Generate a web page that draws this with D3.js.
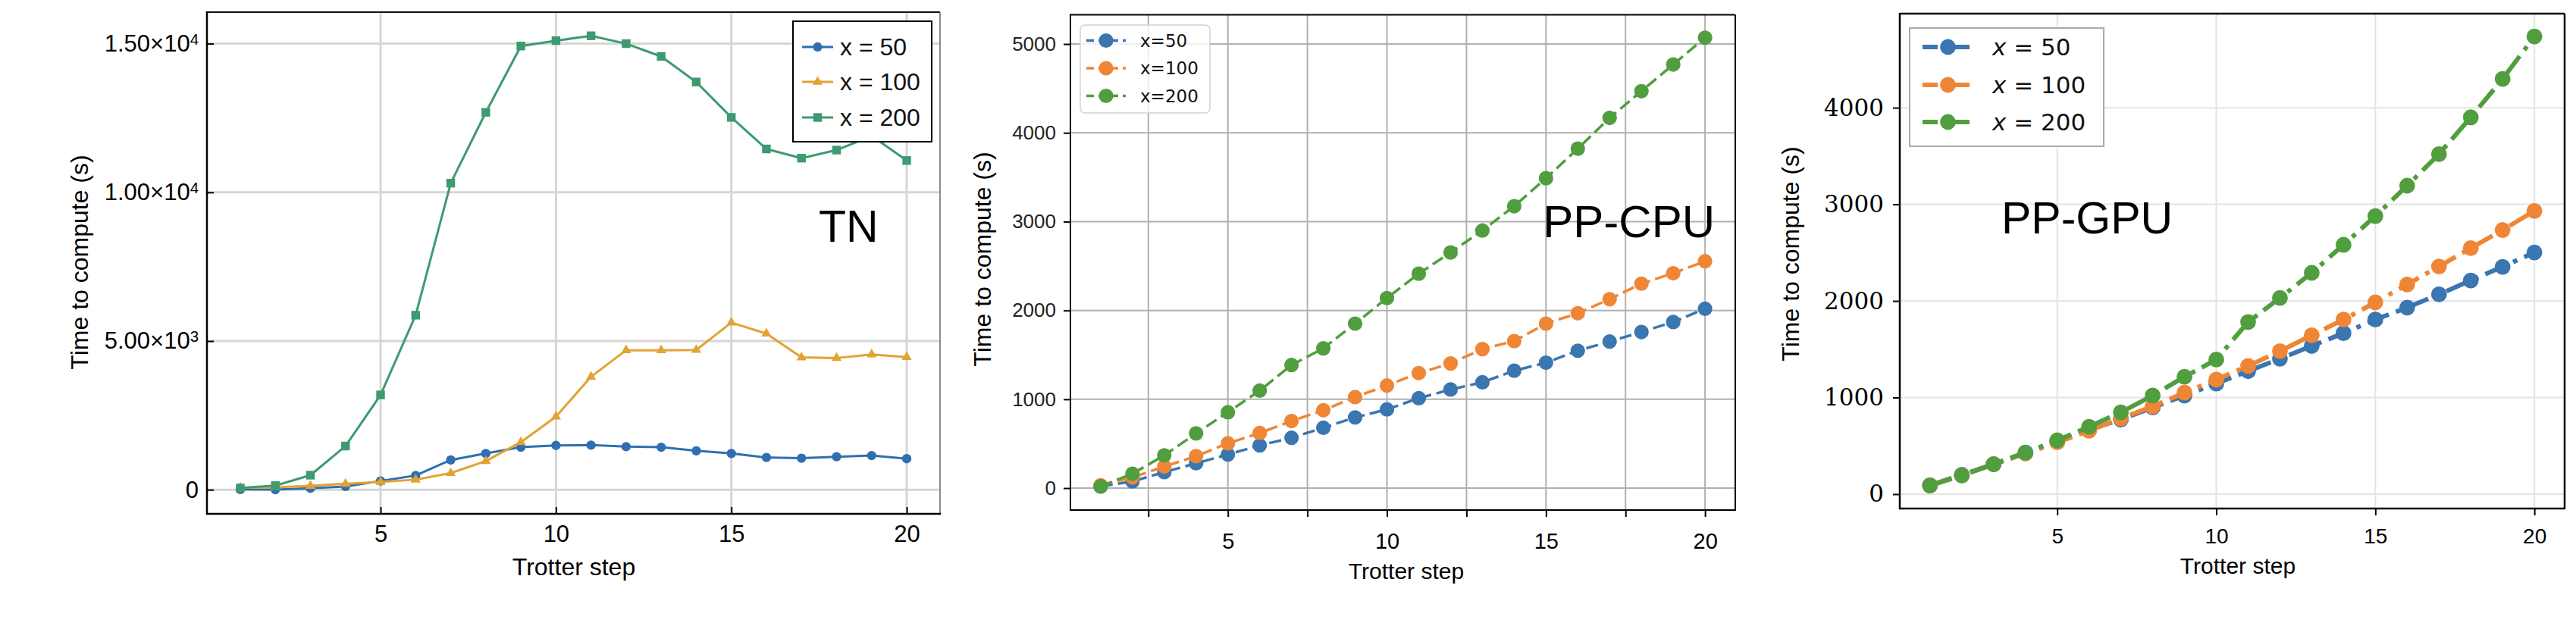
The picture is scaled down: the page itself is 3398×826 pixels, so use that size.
<!DOCTYPE html>
<html>
<head>
<meta charset="utf-8">
<script src="https://cdn.jsdelivr.net/npm/d3@7"></script>
<style>
  html, body { margin: 0; padding: 0; background: #fff; }
  svg { display: block; }
</style>
</head>
<body>
<div id="chart"></div>
<script>
// ---- data ----
const steps = [1, 2, 3, 4, 5, 6, 7, 8, 9, 10, 11, 12, 13, 14, 15, 16, 17, 18, 19, 20];

const tnX50  = [10, 5, 50, 110, 295, 480, 1000, 1220, 1430, 1490, 1500, 1450, 1430, 1310, 1220, 1085, 1060, 1110, 1150, 1045];
const tnX100 = [70, 80, 130, 200, 260, 340, 560, 965, 1600, 2460, 3800, 4690, 4690, 4700, 5620, 5250, 4450, 4430, 4550, 4460];
const tnX200 = [60, 140, 490, 1470, 3190, 5870, 10310, 12690, 14920, 15100, 15265, 15000, 14570, 13710, 12520, 11460, 11150, 11420, 11900, 11070];

const cpuX50  = [18, 76, 180, 280, 378, 481, 566, 679, 796, 886, 1012, 1110, 1191, 1322, 1412, 1547, 1650, 1758, 1870, 2019];
const cpuX100 = [31, 121, 243, 360, 504, 620, 755, 877, 1025, 1155, 1295, 1403, 1565, 1655, 1852, 1969, 2127, 2302, 2419, 2554];
const cpuX200 = [20, 162, 369, 616, 854, 1097, 1385, 1574, 1852, 2140, 2414, 2653, 2900, 3174, 3489, 3822, 4168, 4469, 4770, 5071];

const gpuX50  = [92, 200, 310, 430, 545, 669, 772, 897, 1021, 1145, 1273, 1402, 1534, 1666, 1807, 1931, 2068, 2212, 2353, 2502];
const gpuX100 = [90, 195, 310, 420, 536, 656, 784, 908, 1050, 1186, 1327, 1480, 1645, 1807, 1985, 2171, 2357, 2547, 2734, 2932];
const gpuX200 = [90, 193, 309, 429, 557, 698, 847, 1021, 1215, 1393, 1782, 2031, 2291, 2581, 2879, 3193, 3520, 3901, 4298, 4737];

const tnLabels  = ['x = 50', 'x = 100', 'x = 200'];
const cpuLabels = ['x=50', 'x=100', 'x=200'];
const gpuLabels = ['50', '100', '200'];

const xTickValues = [5, 10, 15, 20];
const cpuXTickValues = [2.5, 5, 7.5, 10, 12.5, 15, 17.5, 20];
const tnYTicks = [0, 5000, 10000, 15000];
const tnYTickText = [['0', ''], ['5.00×10', '3'], ['1.00×10', '4'], ['1.50×10', '4']];
const cpuYTicks = [0, 1000, 2000, 3000, 4000, 5000];
const gpuYTicks = [0, 1000, 2000, 3000, 4000];

const SANS = '"Liberation Sans", Arial, Helvetica, sans-serif';
const DEJAVU = '"DejaVu Sans", sans-serif';
const SERIF = '"DejaVu Serif", "Liberation Serif", serif';

const svg = d3.select('#chart').append('svg')
  .attr('width', 3398)
  .attr('height', 826);

function drawPanel(p) {
  const x = d3.scaleLinear().domain(p.xDomain).range([p.left, p.right]);
  const y = d3.scaleLinear().domain(p.yDomain).range([p.bottom, p.top]);
  const g = svg.append('g');

  // grid
  g.selectAll('.vgrid').data(p.xGrid).enter().append('line')
    .attr('x1', d => x(d)).attr('x2', d => x(d))
    .attr('y1', p.top).attr('y2', p.bottom)
    .attr('stroke', p.gridColor).attr('stroke-width', p.gridWidth);
  g.selectAll('.hgrid').data(p.yTicks).enter().append('line')
    .attr('x1', p.left).attr('x2', p.right)
    .attr('y1', d => y(d)).attr('y2', d => y(d))
    .attr('stroke', p.gridColor).attr('stroke-width', p.gridWidth);

  // series
  p.series.forEach(s => {
    const line = d3.line().x((d, i) => x(steps[i])).y(d => y(d));
    g.append('path').datum(s.values)
      .attr('d', line)
      .attr('fill', 'none')
      .attr('stroke', s.color)
      .attr('stroke-width', p.lineWidth)
      .attr('stroke-dasharray', p.dash || null)
      .attr('stroke-linejoin', 'round');
    g.selectAll(null).data(s.values).enter().append('path')
      .attr('transform', (d, i) => 'translate(' + x(steps[i]) + ',' + y(d) + ')')
      .attr('d', d3.symbol().type(s.symbol).size(s.size))
      .attr('fill', s.color);
  });

  // axes
  const xAxis = d3.axisBottom(x).tickValues(p.xTicks)
    .tickSizeInner(p.tickIn ? -p.tickLen : p.tickLen).tickSizeOuter(0)
    .tickPadding(p.xPad)
    .tickFormat(d => (d % 5 === 0 ? String(d) : ''));
  const gx = g.append('g').attr('transform', 'translate(0,' + p.bottom + ')').call(xAxis);
  gx.select('.domain').remove();
  gx.selectAll('line').attr('stroke', '#000').attr('stroke-width', 2);
  gx.selectAll('text').attr('font-family', SANS).attr('font-size', p.xFont).attr('fill', '#000');

  const yAxis = d3.axisLeft(y).tickValues(p.yTicks)
    .tickSizeInner(p.tickIn ? -p.tickLen : p.tickLen).tickSizeOuter(0)
    .tickPadding(p.yPad)
    .tickFormat(d => String(d));
  const gy = g.append('g').attr('transform', 'translate(' + p.left + ',0)').call(yAxis);
  gy.select('.domain').remove();
  gy.selectAll('line').attr('stroke', '#000').attr('stroke-width', 2);
  gy.selectAll('text').attr('font-family', p.yFamily).attr('font-size', p.yFont).attr('fill', p.yColor);
  if (p.yTickText) {
    gy.selectAll('text').each(function(d, i) {
      const t = d3.select(this).text('');
      const parts = p.yTickText[i];
      t.append('tspan').text(parts[0]);
      if (parts[1]) {
        t.append('tspan').attr('dy', '-0.45em').attr('font-size', p.yFont * 0.66).text(parts[1]);
      }
    });
  }

  // spines
  g.append('line').attr('x1', p.left).attr('x2', p.right).attr('y1', p.top).attr('y2', p.top)
    .attr('stroke', p.spineTop).attr('stroke-width', p.spineTopW);
  g.append('line').attr('x1', p.right).attr('x2', p.right).attr('y1', p.top).attr('y2', p.bottom)
    .attr('stroke', p.spineRight).attr('stroke-width', p.spineRightW);
  g.append('line').attr('x1', p.left).attr('x2', p.left).attr('y1', p.top - 1).attr('y2', p.bottom + 1)
    .attr('stroke', '#000').attr('stroke-width', p.spineW);
  g.append('line').attr('x1', p.left - 1).attr('x2', p.right + 1).attr('y1', p.bottom).attr('y2', p.bottom)
    .attr('stroke', '#000').attr('stroke-width', p.spineW);

  // axis titles
  g.append('text')
    .attr('transform', 'translate(' + p.yTitleX + ',' + p.yTitleY + ') rotate(-90)')
    .attr('text-anchor', 'middle').attr('dominant-baseline', 'central')
    .attr('font-family', SANS).attr('font-size', p.yTitleFont)
    .text('Time to compute (s)');
  g.append('text')
    .attr('x', p.xTitleX).attr('y', p.xTitleY)
    .attr('text-anchor', 'middle').attr('dominant-baseline', 'central')
    .attr('font-family', SANS).attr('font-size', p.xTitleFont)
    .text('Trotter step');

  // panel tag
  g.append('text')
    .attr('x', p.tagX).attr('y', p.tagY)
    .attr('text-anchor', p.tagAnchor)
    .attr('font-family', SANS).attr('font-size', p.tagFont)
    .text(p.tag);

  // legend
  const L = p.legend;
  g.append('rect')
    .attr('x', L.x).attr('y', L.y).attr('width', L.w).attr('height', L.h)
    .attr('rx', L.rx).attr('fill', '#fff').attr('fill-opacity', L.opacity)
    .attr('stroke', L.stroke).attr('stroke-width', L.strokeW);
  p.series.forEach((s, i) => {
    const ly = L.rows[i];
    g.append('line')
      .attr('x1', L.lineX1).attr('x2', L.lineX2).attr('y1', ly).attr('y2', ly)
      .attr('stroke', s.color).attr('stroke-width', L.lineW || p.lineWidth)
      .attr('stroke-dasharray', L.dash || null);
    g.append('path')
      .attr('transform', 'translate(' + ((L.lineX1 + L.lineX2) / 2) + ',' + ly + ')')
      .attr('d', d3.symbol().type(s.symbol).size(s.size))
      .attr('fill', s.color);
    const t = g.append('text')
      .attr('x', L.textX).attr('y', ly)
      .attr('dominant-baseline', 'central')
      .attr('font-family', L.family).attr('font-size', L.font).attr('fill', '#111');
    if (L.mathX) {
      t.append('tspan').attr('font-style', 'italic').text('x');
      t.append('tspan').text(' = ' + L.labels[i]);
    } else {
      t.text(L.labels[i]);
    }
  });
}

// ---- panel 1: TN ----
drawPanel({
  left: 273, right: 1240, top: 16, bottom: 678,
  xDomain: [0.05, 20.95], yDomain: [-810, 16060],
  xGrid: xTickValues, xTicks: xTickValues, yTicks: tnYTicks, yTickText: tnYTickText,
  gridColor: '#d6d6d6', gridWidth: 3,
  tickIn: true, tickLen: 9, xPad: 15, yPad: 11,
  xFont: 31, yFont: 31, yFamily: SANS, yColor: '#000',
  spineTop: '#111', spineTopW: 2, spineRight: '#666', spineRightW: 1.5, spineW: 2.5,
  lineWidth: 3,
  series: [
    { values: tnX50,  color: '#2f6fb1', symbol: d3.symbolCircle,   size: 120 },
    { values: tnX100, color: '#e2a332', symbol: d3.symbolTriangle, size: 75 },
    { values: tnX200, color: '#3e9a70', symbol: d3.symbolSquare,   size: 130 }
  ],
  yTitleX: 105, yTitleY: 346, yTitleFont: 32,
  xTitleX: 757, xTitleY: 748, xTitleFont: 32,
  tag: 'TN', tagX: 1080, tagY: 319, tagAnchor: 'start', tagFont: 59,
  legend: {
    x: 1046, y: 28, w: 183, h: 159, rx: 0, opacity: 1, stroke: '#000', strokeW: 2,
    rows: [62, 108, 155], lineX1: 1058, lineX2: 1099, textX: 1108,
    family: SANS, font: 32, labels: tnLabels
  }
});

// ---- panel 2: PP-CPU ----
drawPanel({
  left: 1412, right: 2289, top: 19.5, bottom: 673,
  xDomain: [0.05, 20.95], yDomain: [-247, 5329],
  xGrid: cpuXTickValues, xTicks: cpuXTickValues, yTicks: cpuYTicks,
  gridColor: '#b0b0b0', gridWidth: 2,
  tickIn: false, tickLen: 9, xPad: 21, yPad: 10,
  xFont: 29, yFont: 26, yFamily: SANS, yColor: '#222',
  spineTop: '#000', spineTopW: 2, spineRight: '#000', spineRightW: 2, spineW: 2,
  lineWidth: 3.5, dash: '16,7',
  series: [
    { values: cpuX50,  color: '#3a76af', symbol: d3.symbolCircle, size: 290 },
    { values: cpuX100, color: '#ef8636', symbol: d3.symbolCircle, size: 290 },
    { values: cpuX200, color: '#519e3e', symbol: d3.symbolCircle, size: 290 }
  ],
  yTitleX: 1296, yTitleY: 342, yTitleFont: 32,
  xTitleX: 1855, xTitleY: 753, xTitleFont: 30,
  tag: 'PP-CPU', tagX: 2262, tagY: 313, tagAnchor: 'end', tagFont: 60,
  legend: {
    x: 1425, y: 33, w: 171, h: 116, rx: 6, opacity: 0.8, stroke: '#d4d4d4', strokeW: 1.5,
    rows: [53.5, 90, 126.5], lineX1: 1433, lineX2: 1485, textX: 1504,
    dash: '10,6', lineW: 3.5,
    family: DEJAVU, font: 23, labels: cpuLabels
  }
});

// ---- panel 3: PP-GPU ----
drawPanel({
  left: 2506, right: 3383, top: 18, bottom: 671,
  xDomain: [0.05, 20.95], yDomain: [-149, 4974],
  xGrid: xTickValues, xTicks: xTickValues, yTicks: gpuYTicks,
  gridColor: '#e4e4e4', gridWidth: 2,
  tickIn: false, tickLen: 9, xPad: 17, yPad: 12,
  xFont: 28, yFont: 31, yFamily: SERIF, yColor: '#000',
  spineTop: '#000', spineTopW: 2.5, spineRight: '#000', spineRightW: 2.5, spineW: 2.5,
  lineWidth: 6, dash: '30,10,6,10',
  series: [
    { values: gpuX50,  color: '#3a76af', symbol: d3.symbolCircle, size: 340 },
    { values: gpuX100, color: '#ef8636', symbol: d3.symbolCircle, size: 340 },
    { values: gpuX200, color: '#519e3e', symbol: d3.symbolCircle, size: 340 }
  ],
  yTitleX: 2362, yTitleY: 335, yTitleFont: 32,
  xTitleX: 2952, xTitleY: 746, xTitleFont: 30,
  tag: 'PP-GPU', tagX: 2640, tagY: 308, tagAnchor: 'start', tagFont: 59,
  legend: {
    x: 2519, y: 37, w: 256, h: 156, rx: 0, opacity: 1, stroke: '#aaaaaa', strokeW: 2,
    rows: [62, 112, 161], lineX1: 2536, lineX2: 2603, textX: 2628,
    dash: '20,8,6,8', lineW: 6,
    family: DEJAVU, font: 31, labels: gpuLabels, mathX: true
  }
});
</script>
</body>
</html>
